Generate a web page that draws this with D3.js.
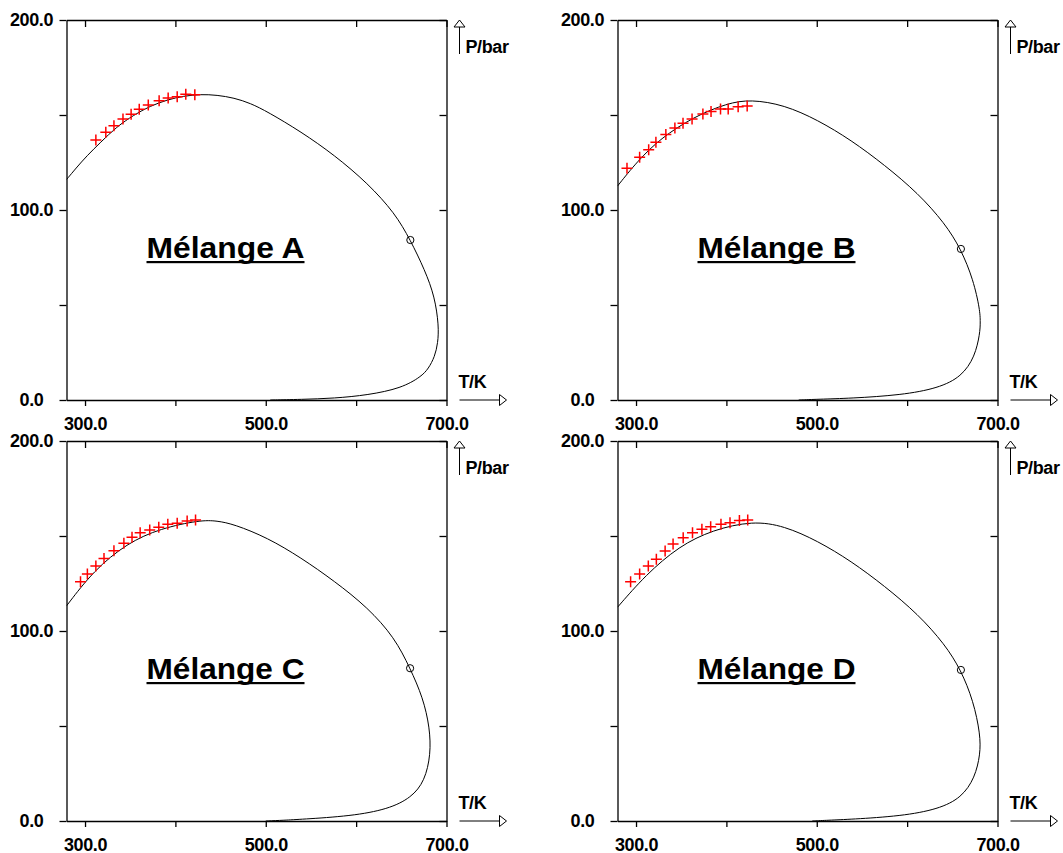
<!DOCTYPE html>
<html><head><meta charset="utf-8">
<script src="https://cdn.jsdelivr.net/npm/d3@7"></script>
<style>
body{margin:0;background:#fff}
text{font-family:"Liberation Sans",Arial,Helvetica,sans-serif;font-weight:bold;fill:#000}
</style>
</head><body>
<svg id="c" width="1063" height="853"></svg>
<script>
// ---------- data ----------
const mixtures = ["Mélange A","Mélange B","Mélange C","Mélange D"];
const xTicks = [300,400,500,600,700];
const xLabelValues = [300,500,700];
const yTicks = [0,50,100,150,200];
const yLabelValues = [0,100,200];
const xAxisName = "T/K";
const yAxisName = "P/bar";

// computed phase envelopes (T in K, P in bar)
const curveA_T = [279.5,290,302,317,335,354,372,391,409,428,446,465,483,502,539,576,613,643,660,676,687,691.5,690.5,687,680,672,650,613,576,539,505];
const curveA_P = [116,122,128.5,135.5,143.8,150,154.7,158,160,160.9,160.5,159,156.2,151.7,141.2,128.9,114,98.3,84.2,68.4,54.4,39,30,22.8,16.5,12.3,6.2,2.6,0.9,0.3,0];
const curveB_T = [279.5,301,327,364,401,427,464,501,538,575,612.2,641.7,659.5,673.3,680.6,681,680.6,675,660.3,634.4,593.6,538,501,480];
const curveB_P = [112.6,125.4,137.7,149.1,156.2,158.2,155.3,147.4,136.8,123.7,108.8,93,79.5,63.2,47.4,41,35.1,22.8,12.3,6.2,2.6,0.9,0.4,0];
const curveC_T = [279.5,309.3,346.4,383.4,427.8,446,464.8,501.9,538.9,575.9,613,642.6,659.7,674,681.5,682.6,676,661.2,635.3,594.5,539,520.4,500];
const curveC_P = [113.2,131.7,146.2,154,158.4,158,156.2,149.1,138.6,126.3,112.3,96.5,80.4,64.9,49.1,35.1,21.1,12.3,6.2,2.6,0.9,0.4,0];
const curveD_T = [279.5,310.6,347.7,384.7,429.2,464,501,538,575,612.2,641.7,659.5,673.3,681,681,675,660.3,634.4,593.6,538,512,495];
const curveD_P = [112.5,129.5,144.7,153.2,158,155.3,147.4,136.8,123.7,108.8,93,79.5,63.2,45.6,35.1,22.8,12.3,6.2,2.6,0.9,0.4,0];

// experimental points (red crosses)
const expA_T = [312,323,332,342,351,360,370,382,392,402,411.5,421.5];
const expA_P = [136.8,140.9,144.4,147.9,150.4,153,155.3,157.5,158.9,159.6,160.9,160.7];
const expB_T = [290,304,314,322,333,343,352,362,374,383,393.5,402,413,423];
const expB_P = [122,127.7,131.7,135.6,139.8,143.2,145.6,147.9,150.5,151.9,153.2,153.2,154.4,154.7];
const expC_T = [295,302.6,312,321,332,343,352,361,371.6,381.6,391.6,402,413,422.3];
const expC_P = [125.9,130,134.2,138.1,142.3,146.2,149.3,151.7,153.2,154.6,156.2,156.7,157.9,158.4];
const expD_T = [294,304,313.6,322.5,332.2,341,352.2,362.5,372.9,382.6,394,404,414.4,423.6];
const expD_P = [125.9,130,134.2,137.7,142.1,145.8,149.1,151.7,153.5,154.9,156.2,157,158.1,158.4];

// critical points
const critT = [660,659.5,659.7,659.5];
const critP = [84.2,79.5,80.4,79.5];

// ---------- drawing ----------
const curvesT = [curveA_T,curveB_T,curveC_T,curveD_T];
const curvesP = [curveA_P,curveB_P,curveC_P,curveD_P];
const expsT = [expA_T,expB_T,expC_T,expD_T];
const expsP = [expA_P,expB_P,expC_P,expD_P];

const svg = d3.select("#c");
const offsets = [[0,0],[551,0],[0,421],[551,421]];
const fmt = d3.format(".1f");

mixtures.forEach((name,i)=>{
  const [dx,dy] = offsets[i];
  const x = d3.scaleLinear([279.5,700],[66.5+dx,446.5+dx]);
  const y = d3.scaleLinear([0,200],[400+dy,20+dy]);
  const g = svg.append("g");
  const cid = "clip"+i;
  g.append("clipPath").attr("id",cid).append("rect")
    .attr("x",x.range()[0]).attr("y",y.range()[1])
    .attr("width",x.range()[1]-x.range()[0]).attr("height",y.range()[0]-y.range()[1]);

  // axes
  g.append("g").attr("transform",`translate(0,${y(0)})`)
    .call(d3.axisBottom(x).tickValues(xTicks).tickSize(6).tickSizeOuter(0).tickPadding(11)
      .tickFormat(d=>xLabelValues.includes(d)?fmt(d):""));
  const gl = g.append("g").attr("transform",`translate(${x.range()[0]},0)`)
    .call(d3.axisLeft(y).tickValues(yTicks).tickSize(7).tickSizeOuter(0)
      .tickFormat(d=>yLabelValues.includes(d)?fmt(d):""));
  gl.selectAll("text").attr("text-anchor","middle").attr("x",-35);
  g.append("g").attr("transform",`translate(0,${y(200)})`)
    .call(d3.axisTop(x).tickValues(xTicks).tickSize(-7).tickSizeOuter(0).tickFormat(""));
  g.append("g").attr("transform",`translate(${x.range()[1]},0)`)
    .call(d3.axisRight(y).tickValues(yTicks).tickSize(-7).tickSizeOuter(0).tickFormat(""));
  g.selectAll(".domain,.tick line").attr("stroke","#000").attr("stroke-width",1.3);
  g.selectAll(".tick text").attr("font-size",18).attr("font-family",null)
    .style("letter-spacing","-0.4px");

  // axis arrows and names
  const ax = x.range()[1]+13;
  g.append("line").attr("x1",ax).attr("x2",ax).attr("y1",y(200)+7).attr("y2",y(200)+34)
    .attr("stroke","#000").attr("stroke-width",1);
  g.append("path").attr("d",`M${ax},${y(200)}L${ax-5.5},${y(200)+7}L${ax+5.5},${y(200)+7}Z`)
    .attr("fill","#fff").attr("stroke","#000").attr("stroke-width",1);
  g.append("text").attr("x",ax+6).attr("y",y(200)+33).attr("font-size",18).text(yAxisName)
    .style("letter-spacing","-0.4px");
  const ay = y(0);
  g.append("line").attr("x1",x.range()[1]+13).attr("x2",x.range()[1]+53).attr("y1",ay).attr("y2",ay)
    .attr("stroke","#000").attr("stroke-width",1);
  g.append("path").attr("d",`M${x.range()[1]+60},${ay}L${x.range()[1]+53},${ay-5.5}L${x.range()[1]+53},${ay+5.5}Z`)
    .attr("fill","#fff").attr("stroke","#000").attr("stroke-width",1);
  g.append("text").attr("x",x.range()[1]+12).attr("y",ay-12).attr("font-size",18).text(xAxisName)
    .style("letter-spacing","-0.4px");

  // envelope
  const pts = curvesT[i].map((t,k)=>[t,curvesP[i][k]]);
  const line = d3.line().x(d=>x(d[0])).y(d=>y(d[1])).curve(d3.curveBasis);
  g.append("path").attr("clip-path",`url(#${cid})`).attr("d",line(pts))
    .attr("fill","none").attr("stroke","#000").attr("stroke-width",1);

  // experimental crosses
  const ex = expsT[i].map((t,k)=>[t,expsP[i][k]]);
  g.append("g").selectAll("path").data(ex).join("path")
    .attr("transform",d=>`translate(${x(d[0])},${y(d[1])})`)
    .attr("d","M-5.5,0H5.5M0,-5.5V5.5").attr("stroke","#ff0000").attr("stroke-width",1.5)
    .attr("fill","none");

  // critical point
  g.append("circle").attr("cx",x(critT[i])).attr("cy",y(critP[i])).attr("r",3.6)
    .attr("fill","none").attr("stroke","#000").attr("stroke-width",1);

  // title
  const tx = 225.5+dx, ty = 258+dy;
  g.append("text").attr("x",tx).attr("y",ty).attr("text-anchor","middle")
    .attr("font-size",30).attr("textLength",158).attr("lengthAdjust","spacingAndGlyphs").text(name);
  g.append("rect").attr("x",tx-79).attr("y",ty+3).attr("width",158).attr("height",2.2).attr("fill","#000");
});
</script>
</body></html>
